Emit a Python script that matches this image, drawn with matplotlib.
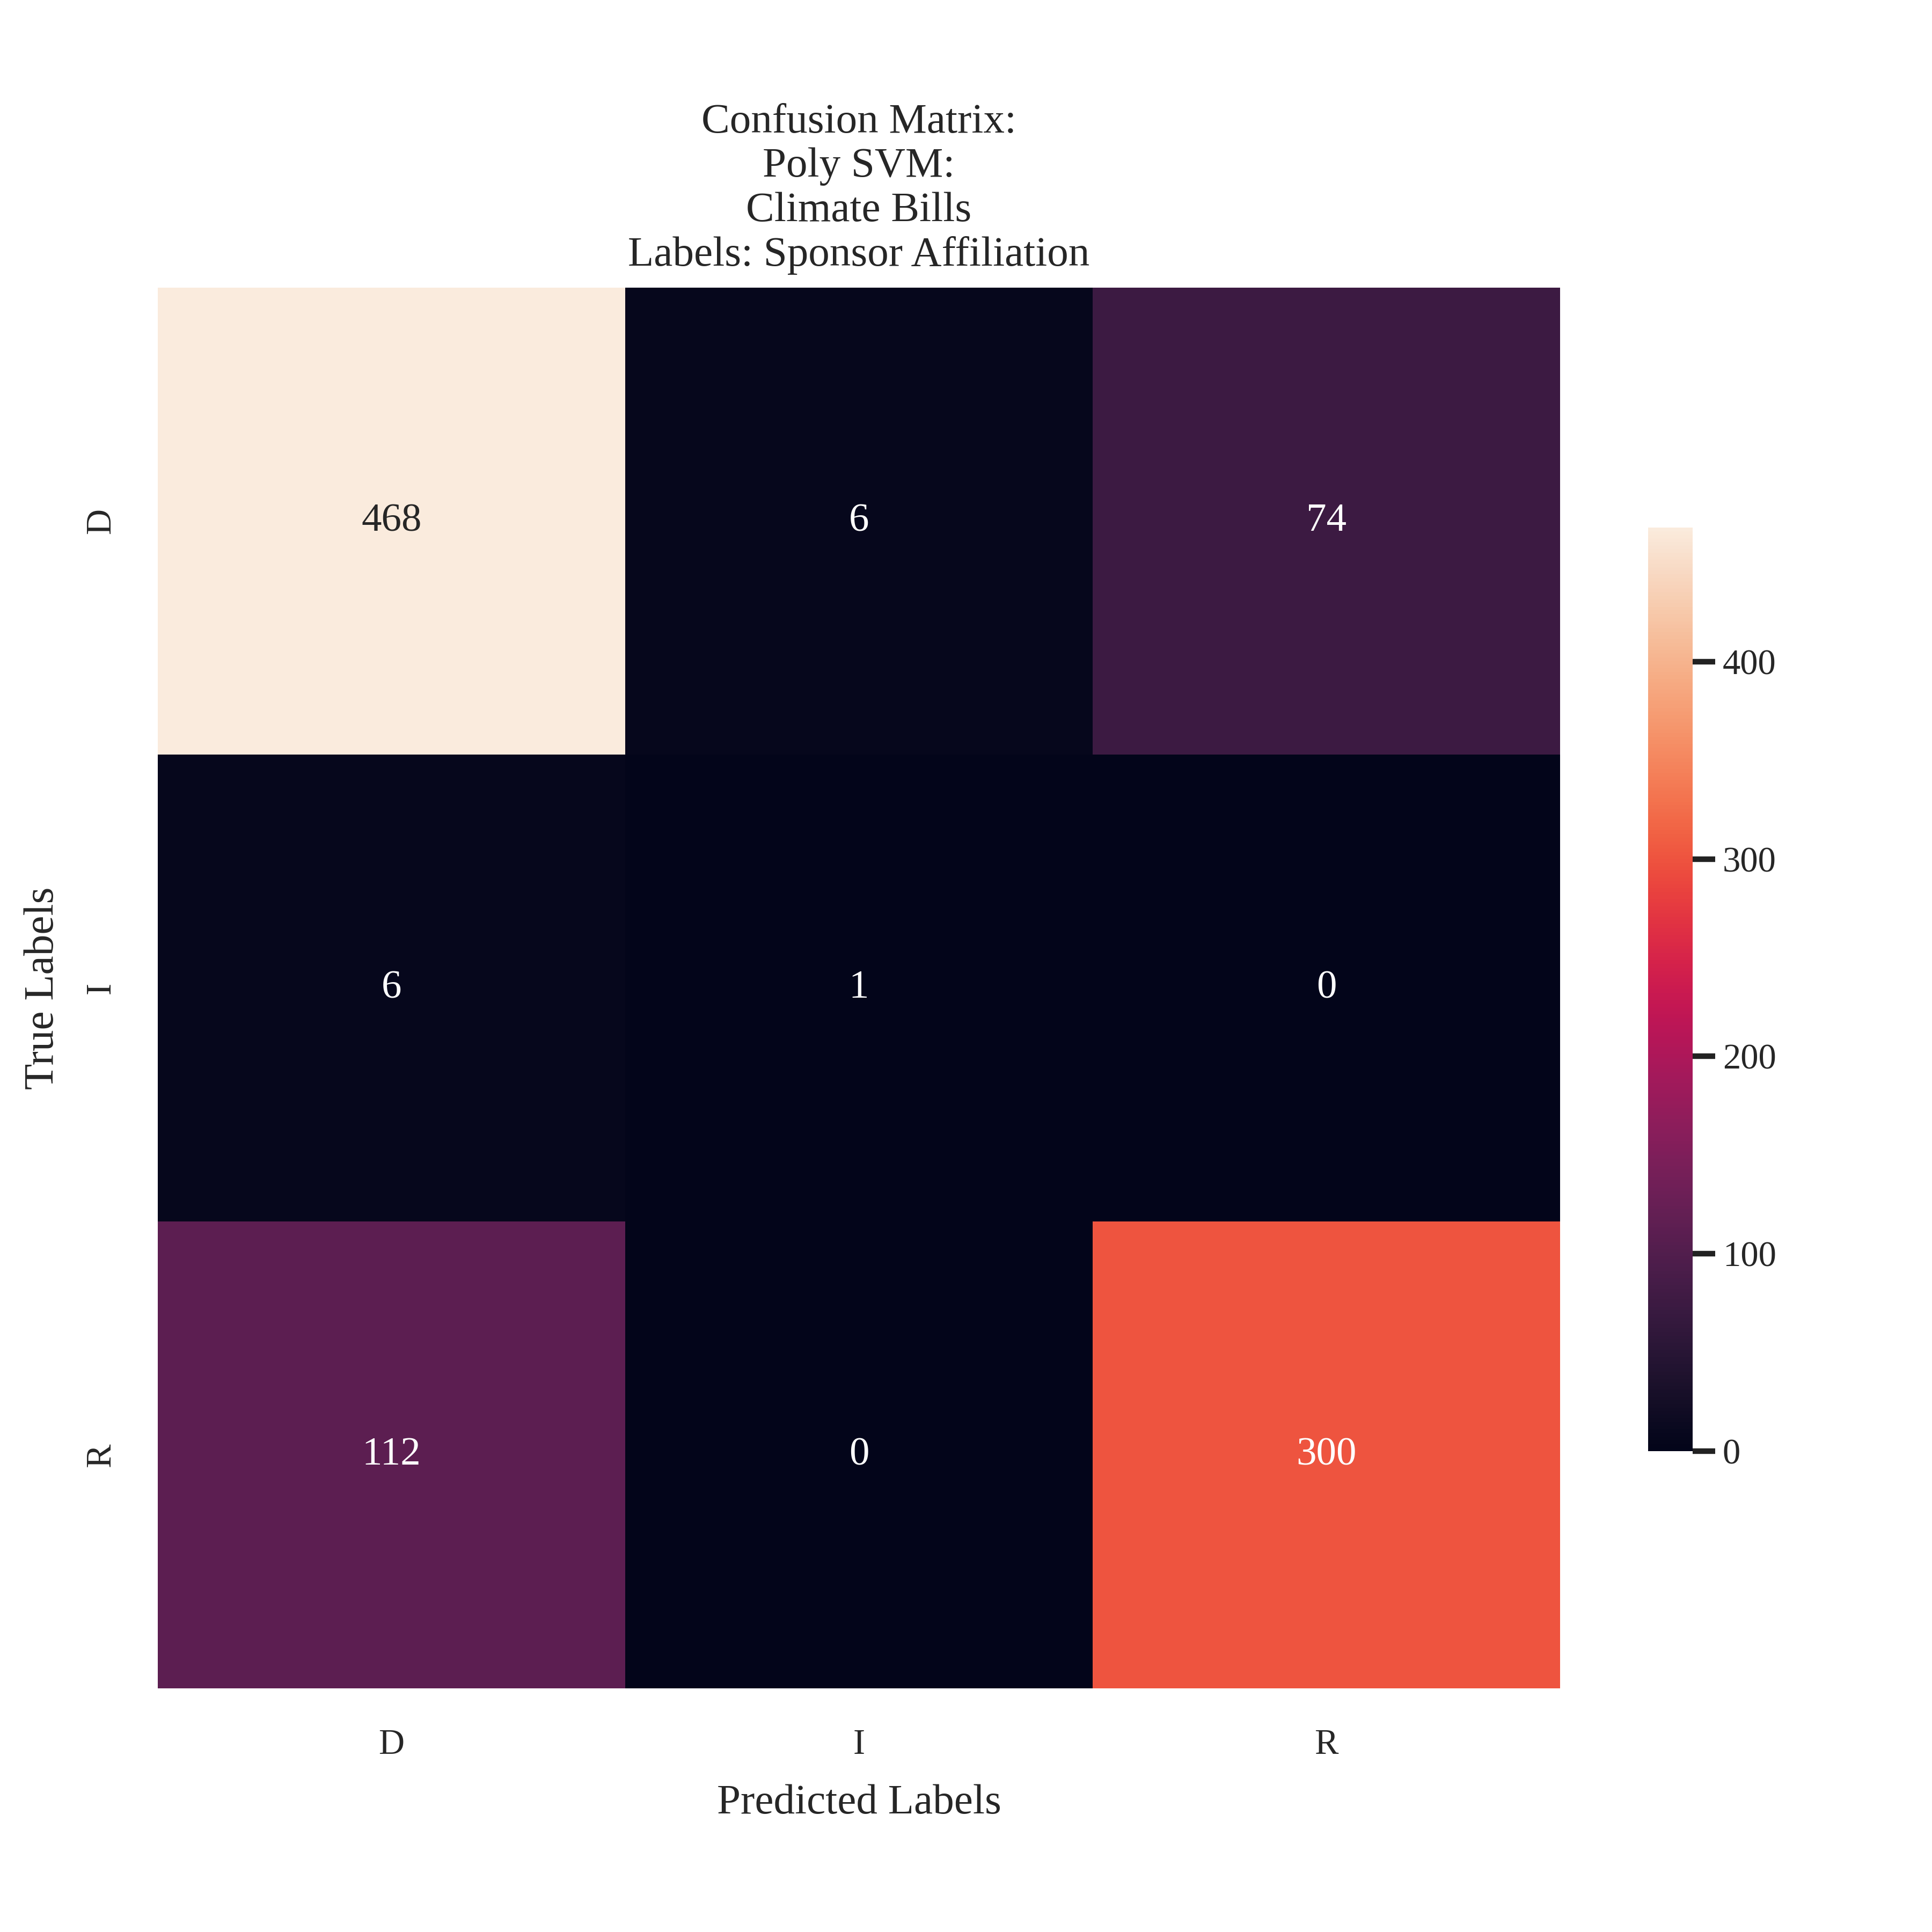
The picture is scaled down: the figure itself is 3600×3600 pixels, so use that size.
import numpy as np
import matplotlib
matplotlib.use("Agg")
import matplotlib.pyplot as plt
import seaborn as sns

# Confusion matrix values (rows = true, cols = predicted)
labels = ["D", "I", "R"]
row_d = [468, 6, 74]
row_i = [6, 1, 0]
row_r = [112, 0, 300]

cm = np.array([row_d, row_i, row_r])

sns.set_theme(style="white")
plt.rcParams["font.family"] = ["Liberation Serif", "DejaVu Serif"]

fig = plt.figure(figsize=(12, 12), dpi=300)
ax = fig.add_axes([0.0816, 0.126, 0.726, 0.725])
cax = fig.add_axes([0.853, 0.249, 0.023, 0.478])

sns.heatmap(cm, annot=True, fmt="d", ax=ax, cbar_ax=cax, cmap="rocket",
            xticklabels=labels, yticklabels=labels,
            annot_kws={"fontsize": 18})

ax.set_title("Confusion Matrix:\nPoly SVM:\nClimate Bills\nLabels: Sponsor Affiliation",
             fontsize=19, pad=10)
ax.set_xlabel("Predicted Labels", fontsize=19, labelpad=10)
ax.set_ylabel("True Labels", fontsize=19, labelpad=10)
ax.tick_params(axis="both", labelsize=16, length=0, pad=18)

cax.tick_params(labelsize=16, length=10, width=2.5, direction="out", color="#222222")
cax.yaxis.set_ticks_position("right")
for s in cax.spines.values():
    s.set_visible(False)

fig.savefig("out.png", dpi=300)
